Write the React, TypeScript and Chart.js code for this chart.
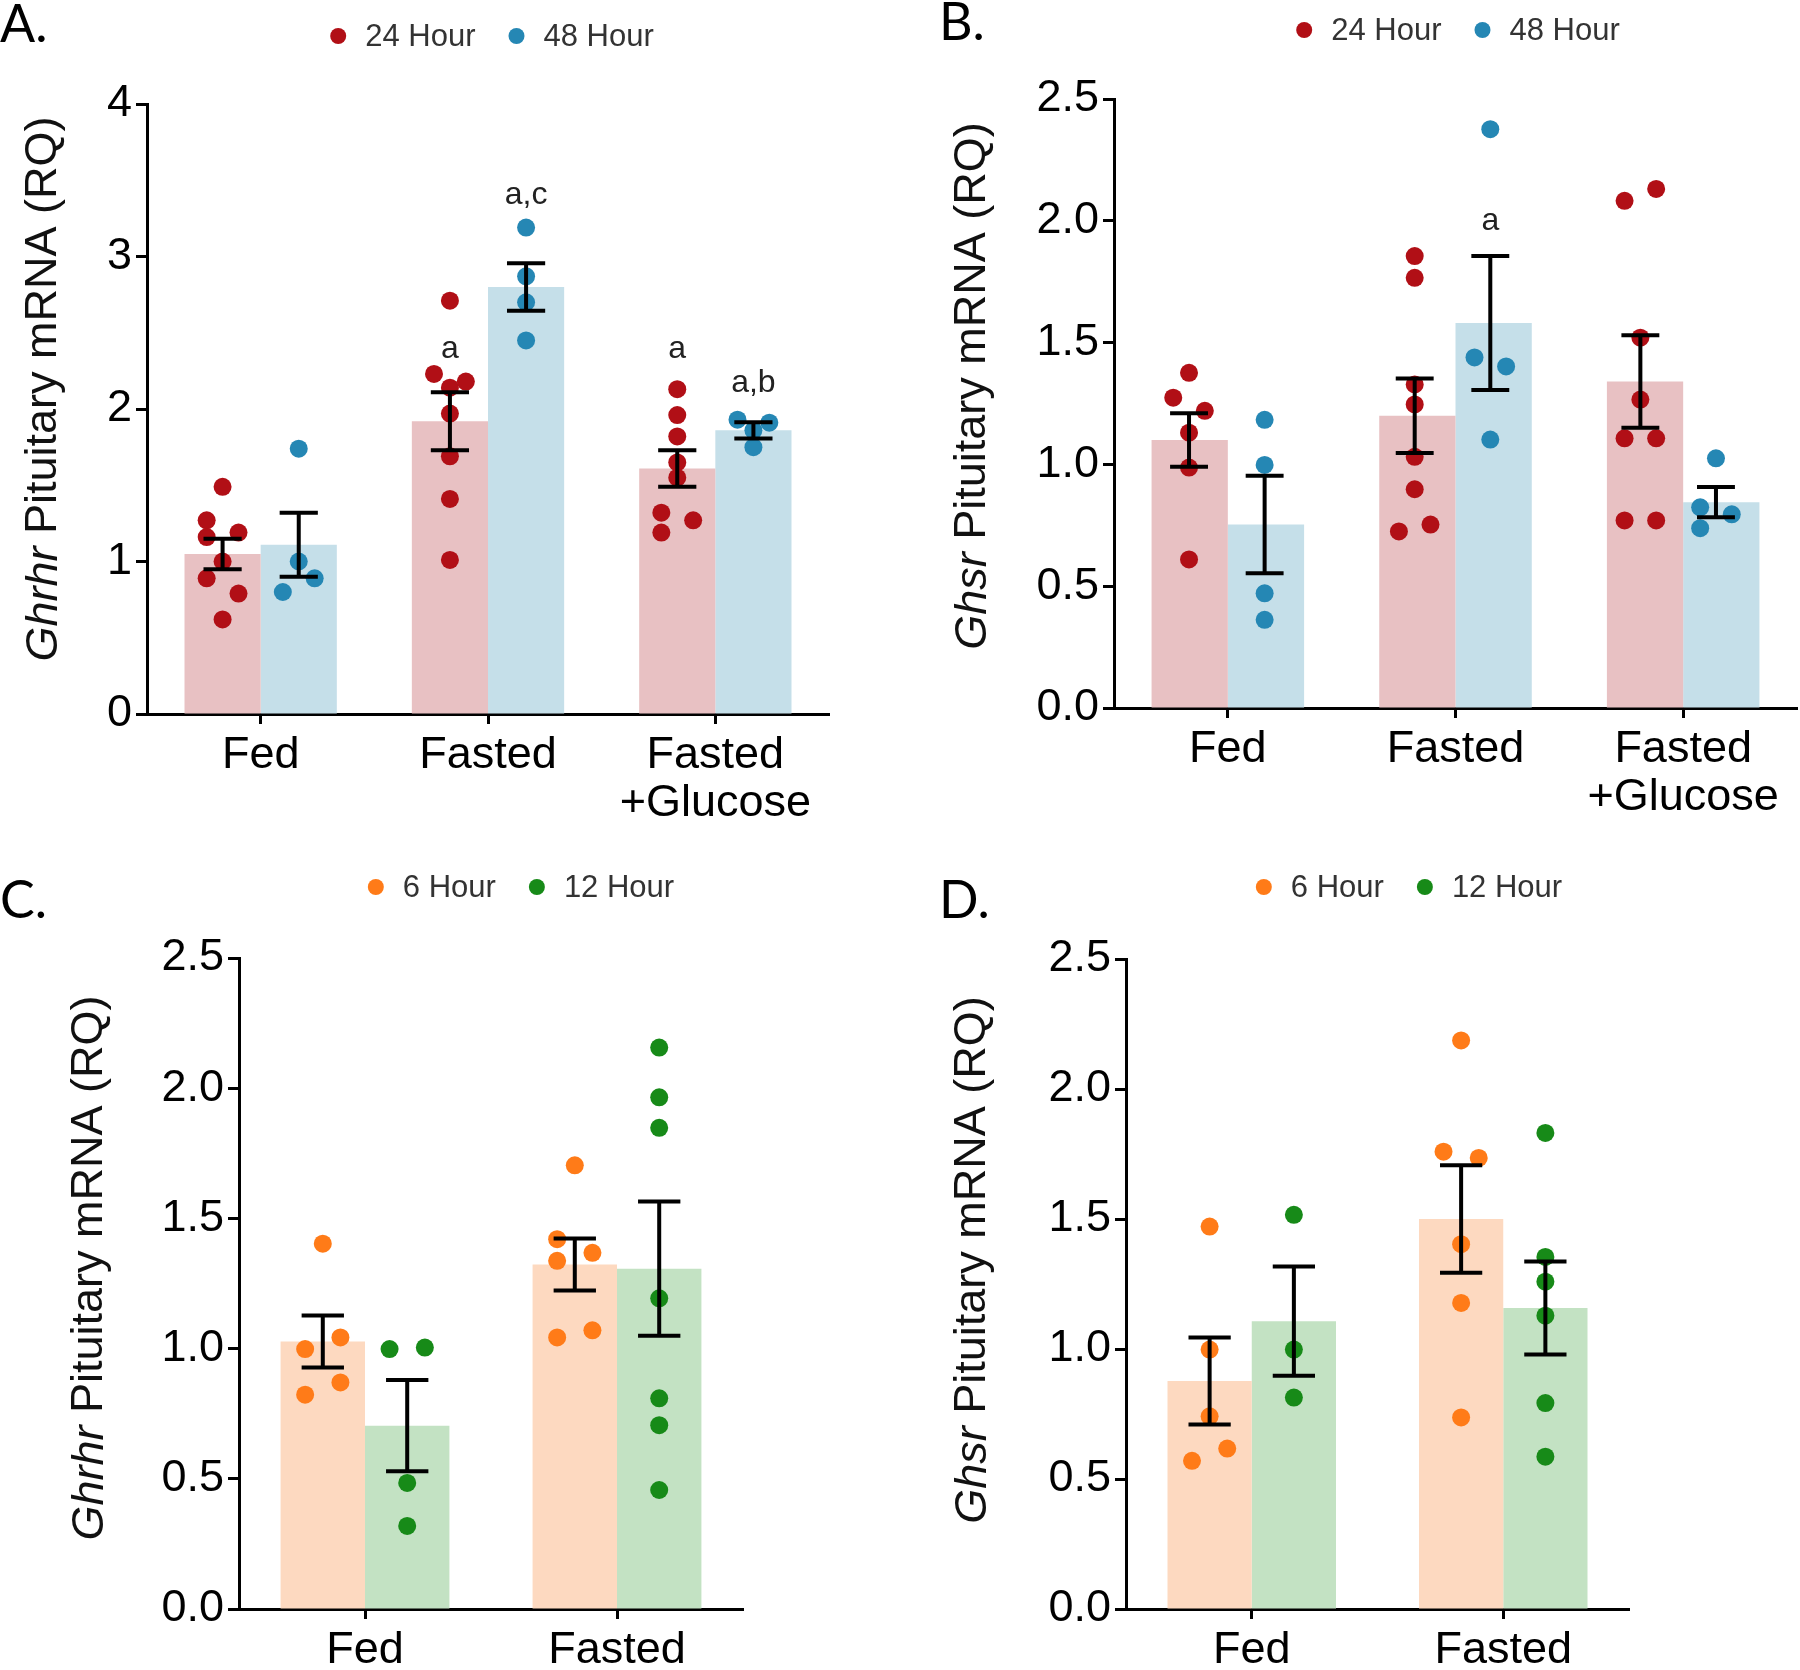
import React, { useEffect, useRef } from 'react';
import { Chart, registerables } from 'chart.js';

Chart.register(...registerables);

// ---------------- Data ----------------
const CATS_3: (string | string[])[] = ['Fed', 'Fasted', ['Fasted', '+Glucose']];
const CATS_2: string[] = ['Fed', 'Fasted'];

const Y_TICKS_A = [0, 1, 2, 3, 4];
const Y_TICKS_BCD = [0, 0.5, 1.0, 1.5, 2.0, 2.5];

const LABELS_AB = ['24 Hour', '48 Hour'];
const LABELS_CD = ['6 Hour', '12 Hour'];

// Panel A – Ghrhr, 24 h / 48 h
const A_MEAN_24 = [1.05, 1.92, 1.61];
const A_SEM_24 = [0.10, 0.19, 0.12];
const A_DOTS_24 = [
  [1.49, 1.27, 1.19, 1.16, 1.0, 0.89, 0.79, 0.62],
  [2.71, 2.23, 2.14, 2.18, 1.97, 1.69, 1.41, 1.01],
  [2.13, 1.96, 1.82, 1.65, 1.55, 1.32, 1.27, 1.19],
];
const A_SIDE_24 = [
  [0, -1, 1, -1, 0, -1, 1, 0],
  [0, -1, 0, 1, 0, 0, 0, 0],
  [0, 0, 0, 0, 0, -1, 1, -1],
];
const A_SIG_24 = ['', 'a', 'a'];
const A_SIG_Y_24 = [0, 2.39, 2.39];

const A_MEAN_48 = [1.11, 2.8, 1.86];
const A_SEM_48 = [0.21, 0.155, 0.053];
const A_DOTS_48 = [
  [1.74, 1.0, 0.89, 0.8],
  [3.19, 2.87, 2.7, 2.45],
  [1.93, 1.91, 1.75, 1.86],
];
const A_SIDE_48 = [
  [0, 0, 1, -1],
  [0, 0, 0, 0],
  [-1, 1, 0, 0],
];
const A_SIG_48 = ['', 'a,c', 'a,b'];
const A_SIG_Y_48 = [0, 3.4, 2.17];

// Panel B – Ghsr, 24 h / 48 h
const B_MEAN_24 = [1.1, 1.2, 1.34];
const B_SEM_24 = [0.11, 0.153, 0.19];
const B_DOTS_24 = [
  [1.376, 1.274, 1.22, 1.13, 0.987, 0.61],
  [1.855, 1.766, 1.328, 1.246, 1.031, 0.898, 0.725, 0.753],
  [2.082, 2.131, 1.52, 1.266, 1.107, 1.107, 0.77, 0.77],
];
const B_SIDE_24 = [
  [0, -1, 1, 0, 0, 0],
  [0, 0, 0, 0, 0, 0, -1, 1],
  [-1, 1, 0, 0, -1, 1, -1, 1],
];
const B_SIG_24 = ['', '', ''];
const B_SIG_Y_24 = [0, 0, 0];

const B_MEAN_48 = [0.753, 1.58, 0.845];
const B_SEM_48 = [0.2, 0.275, 0.062];
const B_DOTS_48 = [
  [1.183, 0.998, 0.471, 0.362],
  [2.376, 1.439, 1.402, 1.102],
  [1.025, 0.824, 0.795, 0.738],
];
const B_SIDE_48 = [
  [0, 0, 0, 0],
  [0, -1, 1, 0],
  [0, -1, 1, -1],
];
const B_SIG_48 = ['', 'a', ''];
const B_SIG_Y_48 = [0, 2.0, 0];

// Panel C – Ghrhr, 6 h / 12 h
const C_MEAN_6 = [1.027, 1.323];
const C_SEM_6 = [0.1, 0.1];
const C_DOTS_6 = [
  [1.403, 0.998, 1.043, 0.87, 0.823],
  [1.704, 1.42, 1.337, 1.368, 1.043, 1.07],
];
const C_SIDE_6 = [
  [0, -1, 1, 1, -1],
  [0, -1, -1, 1, -1, 1],
];
const C_MEAN_12 = [0.704, 1.307];
const C_SEM_12 = [0.175, 0.258];
const C_DOTS_12 = [
  [0.998, 1.004, 0.484, 0.319],
  [2.156, 1.965, 1.848, 1.193, 0.809, 0.706, 0.457],
];
const C_SIDE_12 = [
  [-1, 1, 0, 0],
  [0, 0, 0, 0, 0, 0, 0],
];

// Panel D – Ghsr, 6 h / 12 h
const D_MEAN_6 = [0.877, 1.5];
const D_SEM_6 = [0.167, 0.207];
const D_DOTS_6 = [
  [1.471, 0.998, 0.741, 0.617, 0.57],
  [2.187, 1.759, 1.735, 1.403, 1.177, 0.737],
];
const D_SIDE_6 = [
  [0, 0, 0, 1, -1],
  [0, -1, 1, 0, 0, 0],
];
const D_MEAN_12 = [1.107, 1.158];
const D_SEM_12 = [0.21, 0.179];
const D_DOTS_12 = [
  [1.516, 0.998, 0.813],
  [1.831, 1.354, 1.259, 1.128, 0.792, 0.586],
];
const D_SIDE_12 = [
  [0, 0, 0],
  [0, 0, 0, 0, 0, 0],
];

const NO_SIG_2 = ['', ''];
const NO_SIG_Y_2 = [0, 0];

// ---------------- Styles ----------------
const FONT = "'Liberation Sans', Arial, Helvetica, sans-serif";
const TAG_FONT = "Lato, 'Open Sans', sans-serif";
const RED = '#b10f16';
const RED_BAR = '#e8c1c3';
const BLUE = '#2587b4';
const BLUE_BAR = '#c5dfe9';
const ORANGE = '#ff7b18';
const ORANGE_BAR = '#fdd9c0';
const GREEN = '#178a18';
const GREEN_BAR = '#c3e2c3';

const CAT_PCT = 0.67;
const JITTER = 0.07;
const CAP = 0.084;
const DOT_R = 9;

type Series = {
  label: string;
  dot: string;
  bar: string;
  mean: number[];
  sem: number[];
  dots: number[][];
  sides: number[][];
  sig: string[];
  sigY: number[];
};

type Panel = {
  tag: string;
  gene: string;
  cats: (string | string[])[];
  yTicks: number[];
  decimals: number;
  series: Series[];
  box: [number, number, number, number];
  area: { left: number; right: number; top: number; bottom: number };
  legend: [number, number];
  tagPos: [number, number];
  titlePos: [number, number];
};

const PANELS: Panel[] = [
  {
    tag: 'A.',
    gene: 'Ghrhr',
    cats: CATS_3,
    yTicks: Y_TICKS_A,
    decimals: 0,
    series: [
      { label: LABELS_AB[0], dot: RED, bar: RED_BAR, mean: A_MEAN_24, sem: A_SEM_24, dots: A_DOTS_24, sides: A_SIDE_24, sig: A_SIG_24, sigY: A_SIG_Y_24 },
      { label: LABELS_AB[1], dot: BLUE, bar: BLUE_BAR, mean: A_MEAN_48, sem: A_SEM_48, dots: A_DOTS_48, sides: A_SIDE_48, sig: A_SIG_48, sigY: A_SIG_Y_48 },
    ],
    box: [0, 0, 900, 830],
    area: { left: 147, right: 829, top: 104, bottom: 714 },
    legend: [492, 36],
    tagPos: [0, 42],
    titlePos: [44, 389],
  },
  {
    tag: 'B.',
    gene: 'Ghsr',
    cats: CATS_3,
    yTicks: Y_TICKS_BCD,
    decimals: 1,
    series: [
      { label: LABELS_AB[0], dot: RED, bar: RED_BAR, mean: B_MEAN_24, sem: B_SEM_24, dots: B_DOTS_24, sides: B_SIDE_24, sig: B_SIG_24, sigY: B_SIG_Y_24 },
      { label: LABELS_AB[1], dot: BLUE, bar: BLUE_BAR, mean: B_MEAN_48, sem: B_SEM_48, dots: B_DOTS_48, sides: B_SIDE_48, sig: B_SIG_48, sigY: B_SIG_Y_48 },
    ],
    box: [900, 0, 900, 830],
    area: { left: 214, right: 897, top: 99, bottom: 708 },
    legend: [558, 30],
    tagPos: [39, 40],
    titlePos: [73, 386],
  },
  {
    tag: 'C.',
    gene: 'Ghrhr',
    cats: CATS_2,
    yTicks: Y_TICKS_BCD,
    decimals: 1,
    series: [
      { label: LABELS_CD[0], dot: ORANGE, bar: ORANGE_BAR, mean: C_MEAN_6, sem: C_SEM_6, dots: C_DOTS_6, sides: C_SIDE_6, sig: NO_SIG_2, sigY: NO_SIG_Y_2 },
      { label: LABELS_CD[1], dot: GREEN, bar: GREEN_BAR, mean: C_MEAN_12, sem: C_SEM_12, dots: C_DOTS_12, sides: C_SIDE_12, sig: NO_SIG_2, sigY: NO_SIG_Y_2 },
    ],
    box: [0, 830, 900, 840],
    area: { left: 239, right: 743, top: 128, bottom: 779 },
    legend: [521, 57],
    tagPos: [0, 88],
    titlePos: [90, 438],
  },
  {
    tag: 'D.',
    gene: 'Ghsr',
    cats: CATS_2,
    yTicks: Y_TICKS_BCD,
    decimals: 1,
    series: [
      { label: LABELS_CD[0], dot: ORANGE, bar: ORANGE_BAR, mean: D_MEAN_6, sem: D_SEM_6, dots: D_DOTS_6, sides: D_SIDE_6, sig: NO_SIG_2, sigY: NO_SIG_Y_2 },
      { label: LABELS_CD[1], dot: GREEN, bar: GREEN_BAR, mean: D_MEAN_12, sem: D_SEM_12, dots: D_DOTS_12, sides: D_SIDE_12, sig: NO_SIG_2, sigY: NO_SIG_Y_2 },
    ],
    box: [900, 830, 900, 840],
    area: { left: 226, right: 729, top: 129, bottom: 779 },
    legend: [509, 57],
    tagPos: [39, 88],
    titlePos: [73, 430],
  },
];

const BASE_OPTIONS = {
  responsive: false,
  maintainAspectRatio: false,
  animation: false,
  devicePixelRatio: 1,
  events: [] as any[],
};

// Bars + axes (category x axis, grouped bars)
function makeBarChart(canvas: HTMLCanvasElement, p: Panel): Chart {
  const W = p.box[2];
  const H = p.box[3];
  const yTicks = p.yTicks;

  const decorPlugin = {
    id: 'decor_' + p.tag,
    afterDraw(chart: any) {
      const ctx = chart.ctx as CanvasRenderingContext2D;
      ctx.save();
      // panel tag
      ctx.fillStyle = '#000';
      ctx.font = `52px ${TAG_FONT}`;
      ctx.textAlign = 'left';
      ctx.textBaseline = 'alphabetic';
      ctx.fillText(p.tag, p.tagPos[0], p.tagPos[1]);

      // legend
      ctx.font = `31px ${FONT}`;
      ctx.textBaseline = 'middle';
      const r = 8;
      const gapDot = 19;
      const gapItem = 33;
      const widths = p.series.map((s) => ctx.measureText(s.label).width);
      const total =
        widths.reduce((a, w) => a + 2 * r + gapDot + w, 0) + gapItem * (p.series.length - 1);
      let x = p.legend[0] - total / 2;
      const cy = p.legend[1];
      p.series.forEach((s, i) => {
        ctx.fillStyle = s.dot;
        ctx.beginPath();
        ctx.arc(x + r, cy, r, 0, Math.PI * 2);
        ctx.fill();
        x += 2 * r + gapDot;
        ctx.fillStyle = '#333';
        ctx.fillText(s.label, x, cy + 1);
        x += widths[i] + gapItem;
      });

      // y-axis title (italic gene name)
      ctx.translate(p.titlePos[0], p.titlePos[1]);
      ctx.rotate(-Math.PI / 2);
      const italic = `italic 45px ${FONT}`;
      const normal = `45px ${FONT}`;
      const rest = ' Pituitary mRNA (RQ)';
      ctx.font = italic;
      const w1 = ctx.measureText(p.gene).width;
      ctx.font = normal;
      const w2 = ctx.measureText(rest).width;
      const sx = -(w1 + w2) / 2;
      ctx.fillStyle = '#111';
      ctx.textAlign = 'left';
      ctx.textBaseline = 'middle';
      ctx.font = italic;
      ctx.fillText(p.gene, sx, 0);
      ctx.font = normal;
      ctx.fillText(rest, sx + w1, 0);
      ctx.restore();
    },
  };

  return new Chart(canvas, {
    type: 'bar',
    data: {
      labels: p.cats as any,
      datasets: p.series.map((s) => ({
        label: s.label,
        data: s.mean,
        backgroundColor: s.bar,
        borderWidth: 0,
        categoryPercentage: CAT_PCT,
        barPercentage: 1,
      })),
    },
    options: {
      ...BASE_OPTIONS,
      layout: {
        padding: { left: 0, top: p.area.top, right: W - p.area.right, bottom: 0 },
      },
      plugins: {
        legend: { display: false },
        tooltip: { enabled: false },
        title: { display: false },
      },
      scales: {
        x: {
          type: 'category',
          offset: true,
          z: 1,
          grid: {
            display: true,
            drawOnChartArea: false,
            offset: false,
            tickLength: 10,
            tickWidth: 3,
            tickColor: '#000',
            color: '#000',
          },
          border: { display: true, color: '#000', width: 3 },
          ticks: {
            color: '#000',
            font: { family: FONT, size: 45, lineHeight: 1.08 },
            padding: 7,
            maxRotation: 0,
            minRotation: 0,
            autoSkip: false,
          },
          afterFit: (s: any) => {
            s.height = H - p.area.bottom;
          },
        },
        y: {
          type: 'linear',
          min: yTicks[0],
          max: yTicks[yTicks.length - 1],
          z: 1,
          grid: {
            display: true,
            drawOnChartArea: false,
            tickLength: 11,
            tickWidth: 3,
            tickColor: '#000',
            color: '#000',
          },
          border: { display: true, color: '#000', width: 3 },
          ticks: {
            color: '#000',
            font: { family: FONT, size: 45 },
            padding: 4,
            callback: (v: any) => Number(v).toFixed(p.decimals),
          },
          afterBuildTicks: (s: any) => {
            s.ticks = yTicks.map((v) => ({ value: v }));
          },
          afterFit: (s: any) => {
            s.width = p.area.left;
          },
        },
      } as any,
    },
    plugins: [decorPlugin],
  } as any);
}

// Individual points + SEM error bars (linear x aligned with the category slots)
function makeDotChart(canvas: HTMLCanvasElement, p: Panel): Chart {
  const W = p.box[2];
  const H = p.box[3];
  const n = p.cats.length;
  const half = CAT_PCT / 4;
  const yTicks = p.yTicks;

  const datasets = p.series.map((s, si) => {
    const c = si === 0 ? -half : half;
    const data: { x: number; y: number }[] = [];
    s.dots.forEach((vals, ci) =>
      vals.forEach((v, k) => data.push({ x: ci + c + s.sides[ci][k] * JITTER, y: v }))
    );
    return {
      label: s.label,
      data,
      backgroundColor: s.dot,
      borderColor: s.dot,
      borderWidth: 0,
      pointRadius: DOT_R,
      pointHoverRadius: DOT_R,
      showLine: false,
      clip: false as any,
    };
  });

  const errorPlugin = {
    id: 'errorBars_' + p.tag,
    afterDatasetsDraw(chart: any) {
      const ctx = chart.ctx as CanvasRenderingContext2D;
      const xs = chart.scales.x;
      const ys = chart.scales.y;
      ctx.save();
      ctx.strokeStyle = '#000';
      ctx.lineWidth = 4;
      ctx.lineCap = 'butt';
      p.series.forEach((s, si) => {
        const c = si === 0 ? -half : half;
        s.mean.forEach((m, ci) => {
          const xc = xs.getPixelForValue(ci + c);
          const xl = xs.getPixelForValue(ci + c - CAP);
          const xr = xs.getPixelForValue(ci + c + CAP);
          const yt = ys.getPixelForValue(m + s.sem[ci]);
          const yb = ys.getPixelForValue(m - s.sem[ci]);
          ctx.beginPath();
          ctx.moveTo(xc, yt);
          ctx.lineTo(xc, yb);
          ctx.moveTo(xl, yt);
          ctx.lineTo(xr, yt);
          ctx.moveTo(xl, yb);
          ctx.lineTo(xr, yb);
          ctx.stroke();
          if (s.sig[ci]) {
            ctx.fillStyle = '#222';
            ctx.font = `32px ${FONT}`;
            ctx.textAlign = 'center';
            ctx.textBaseline = 'middle';
            ctx.fillText(s.sig[ci], xc, ys.getPixelForValue(s.sigY[ci]));
          }
        });
      });
      ctx.restore();
    },
  };

  return new Chart(canvas, {
    type: 'scatter',
    data: { datasets },
    options: {
      ...BASE_OPTIONS,
      layout: {
        padding: {
          left: p.area.left,
          top: p.area.top,
          right: W - p.area.right,
          bottom: H - p.area.bottom,
        },
      },
      plugins: {
        legend: { display: false },
        tooltip: { enabled: false },
        title: { display: false },
      },
      scales: {
        x: { type: 'linear', display: false, offset: false, min: -0.5, max: n - 0.5 },
        y: {
          type: 'linear',
          display: false,
          min: yTicks[0],
          max: yTicks[yTicks.length - 1],
        },
      },
    },
    plugins: [errorPlugin],
  } as any);
}

export default function App() {
  const barRefs = useRef<(HTMLCanvasElement | null)[]>([]);
  const dotRefs = useRef<(HTMLCanvasElement | null)[]>([]);

  useEffect(() => {
    const charts: Chart[] = [];
    PANELS.forEach((p, i) => {
      const b = barRefs.current[i];
      const d = dotRefs.current[i];
      if (b) charts.push(makeBarChart(b, p));
      if (d) charts.push(makeDotChart(d, p));
    });
    return () => charts.forEach((c) => c.destroy());
  }, []);

  return (
    <div
      style={{
        position: 'fixed',
        left: 0,
        top: 0,
        width: 1800,
        height: 1670,
        background: '#fff',
        overflow: 'hidden',
      }}
    >
      {PANELS.map((p, i) => (
        <React.Fragment key={p.tag}>
          <canvas
            ref={(el) => {
              barRefs.current[i] = el;
            }}
            width={p.box[2]}
            height={p.box[3]}
            style={{
              position: 'absolute',
              left: p.box[0],
              top: p.box[1],
              width: p.box[2],
              height: p.box[3],
            }}
          />
          <canvas
            ref={(el) => {
              dotRefs.current[i] = el;
            }}
            width={p.box[2]}
            height={p.box[3]}
            style={{
              position: 'absolute',
              left: p.box[0],
              top: p.box[1],
              width: p.box[2],
              height: p.box[3],
            }}
          />
        </React.Fragment>
      ))}
    </div>
  );
}
